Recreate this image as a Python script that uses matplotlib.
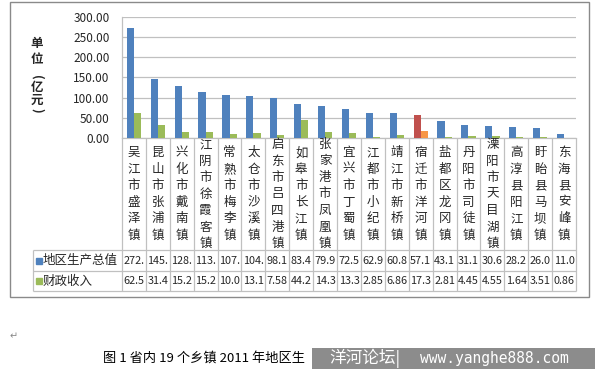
import matplotlib
matplotlib.use("Agg")
import matplotlib.pyplot as plt
from matplotlib.patches import Rectangle

plt.rcParams['font.family'] = ['Noto Sans CJK SC', 'DejaVu Sans']

# ---------------- data ----------------
towns = ["吴江市盛泽镇", "昆山市张浦镇", "兴化市戴南镇", "江阴市徐霞客镇", "常熟市梅李镇",
         "太仓市沙溪镇", "启东市吕四港镇", "如皋市长江镇", "张家港市凤凰镇", "宜兴市丁蜀镇",
         "江都市小纪镇", "靖江市新桥镇", "宿迁市洋河镇", "盐都区龙冈镇", "丹阳市司徒镇",
         "溧阳市天目湖镇", "高淳县阳江镇", "盱眙县马坝镇", "东海县安峰镇"]
gdp = [272.4, 145.3, 128.6, 113.2, 107.5, 104.6, 98.1, 83.4, 79.9, 72.5,
       62.9, 60.8, 57.1, 43.1, 31.1, 30.6, 28.2, 26.0, 11.0]
revenue = [62.5, 31.4, 15.2, 15.2, 10.0, 13.1, 7.58, 44.2, 14.3, 13.3,
           2.85, 6.86, 17.3, 2.81, 4.45, 4.55, 1.64, 3.51, 0.86]
series_names = ["地区生产总值", "财政收入"]
highlight = "宿迁市洋河镇"
yticks = [0, 50, 100, 150, 200, 250, 300]

BLUE, GREEN = "#4F81BD", "#9BBB59"
RED, ORANGE = "#C0504D", "#F79646"
GRID = "#C0C0C0"
TXT = "#262626"

W, H = 600, 374
fig = plt.figure(figsize=(6, 3.74), dpi=100)
fig.patch.set_facecolor("white")


def rect(x0, y0, x1, y1):
    """pixel box (top-left origin) -> figure fraction rect"""
    return [x0 / W, 1 - y1 / H, (x1 - x0) / W, (y1 - y0) / H]


n = len(towns)
# ---------------- bars ----------------
ax = fig.add_axes(rect(122, 17, 576, 138))
xs = [i + 0.5 for i in range(n)]
bw = 0.3
c1 = [RED if t == highlight else BLUE for t in towns]
c2 = [ORANGE if t == highlight else GREEN for t in towns]
ax.bar([x - bw / 2 for x in xs], gdp, width=bw, color=c1, zorder=3)
ax.bar([x + bw / 2 for x in xs], revenue, width=bw, color=c2, zorder=3)
ax.set_xlim(0, n)
ax.set_ylim(0, 300)
ax.set_yticks(yticks)
ax.set_yticklabels([f"{v:.2f}" for v in yticks], fontsize=8.5, color=TXT)
ax.tick_params(axis="y", length=0, pad=9)
ax.set_xticks([])
ax.yaxis.grid(True, color=GRID, lw=0.9)
ax.set_axisbelow(True)
for s in ["top", "right"]:
    ax.spines[s].set_visible(False)
for s in ["left", "bottom"]:
    ax.spines[s].set_color(GRID)
    ax.spines[s].set_linewidth(0.9)

# ---------------- table ----------------
leg_w = (122 - 33) / ((576 - 122) / n)
axt = fig.add_axes(rect(33, 138, 576, 291))
axt.set_xlim(-leg_w, n)
axt.set_ylim(291, 138)
axt.axis("off")
row_top, row_mid, row_bot = 250, 271, 291
axt.vlines(range(n + 1), 138, row_bot, color=GRID, lw=0.9, clip_on=False)
axt.vlines([-leg_w], row_top, row_bot, color=GRID, lw=0.9, clip_on=False)
axt.hlines([row_top, row_mid, row_bot], -leg_w, n, color=GRID, lw=0.9, clip_on=False)

# vertical category labels
sp = 16.5
yc = 194
for i, t in enumerate(towns):
    m = len(t)
    for j, ch in enumerate(t):
        axt.text(xs[i], yc + (j - (m - 1) / 2) * sp, ch, ha="center", va="center",
                 fontsize=9, color=TXT)

# legend cells and values
unit = (576 - 122) / n
for k, (name, col, vals) in enumerate([(series_names[0], BLUE, gdp),
                                       (series_names[1], GREEN, revenue)]):
    yr = (row_top + row_mid) / 2 if k == 0 else (row_mid + row_bot) / 2
    axt.plot([-leg_w + 5.5 / unit], [yr], marker="s", ms=4, color=col,
             ls="none", clip_on=False)
    axt.text(-leg_w + 10 / unit, yr, name, ha="left", va="center", fontsize=9, color=TXT)
    for i, v in enumerate(vals):
        axt.text(xs[i], yr, f"{v:.2f}"[:4], ha="center", va="center",
                 fontsize=7.8, color=TXT)

# y-axis title (vertical stacked, brackets turned)
for ch, y, rot in [("单", 43, 0), ("位", 60, 0), ("(", 77, -90),
                   ("亿", 88, 0), ("元", 100, 0), (")", 110, -90)]:
    fig.text(37 / W, 1 - y / H, ch, ha="center", va="center", fontsize=9,
             fontweight="bold", color=TXT, rotation=rot)

# outer chart frame
fig.add_artist(Rectangle((10 / W, 1 - 297 / H), 579 / W, 295 / H, fill=False,
                         ec="#8A8A8A", lw=1, transform=fig.transFigure))

# below chart: paragraph mark, caption and watermark
fig.text(14 / W, 1 - 336 / H, "↵", fontsize=7, color="#888888", ha="center",
         va="center", family=["DejaVu Sans"])
fig.text(103 / W, 1 - 358 / H, "图 1 省内 19 个乡镇 2011 年地区生", fontsize=9.5,
         color="black", ha="left", va="center")
fig.add_artist(Rectangle((312 / W, 1 - 369 / H), (595 - 312) / W, 21 / H,
                         fc="#8C8C8C", ec="none", transform=fig.transFigure))
fig.text(329 / W, 1 - 358.5 / H, "洋河论坛|", fontsize=12, color="white",
         ha="left", va="center")
fig.text(420 / W, 1 - 358.5 / H, "www.yanghe888.com", fontsize=10.5, color="white",
         ha="left", va="center", family=["DejaVu Sans Mono"])

fig.savefig("out.png", dpi=100)
